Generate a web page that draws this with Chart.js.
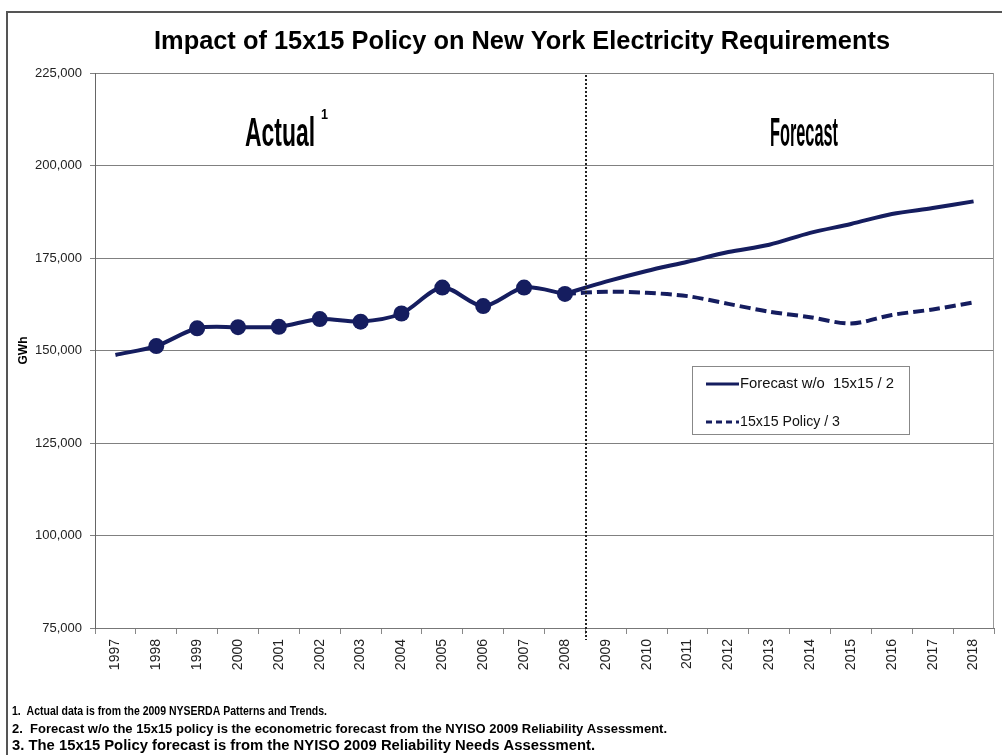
<!DOCTYPE html>
<html>
<head>
<meta charset="utf-8">
<script src="https://cdn.jsdelivr.net/npm/chart.js@4"></script>
<style>
   body { margin: 0; background: #fff; }
   canvas { display: block; }
</style>
</head>
<body>
<canvas id="nyChart" width="1002" height="755"></canvas>
<script>
// categories (years)
var years = ['1997', '1998', '1999', '2000', '2001', '2002', '2003', '2004', '2005', '2006', '2007',
             '2008', '2009', '2010', '2011', '2012', '2013', '2014', '2015', '2016', '2017', '2018'];

// actual energy requirements, GWh (1997 - 2008)
var actualValues = [148800, 151200, 156000, 156300, 156400, 158500, 157800, 160000, 167000, 162000, 167000,
                    165300, null, null, null, null, null, null, null, null, null, null];

// forecast without the 15x15 policy, GWh
var forecastValues = [null, null, null, null, null, null, null, null, null, null, null,
                      165300, 168600, 171500, 174000, 176600, 178600, 181800, 184200, 186900, 188500, 190300];

// forecast with the 15x15 policy, GWh
var policyValues = [null, null, null, null, null, null, null, null, null, null, null,
                    165300, 165900, 165600, 164700, 162600, 160500, 159000, 157300, 159600, 161100, 163000];

var yTicks = [75000, 100000, 125000, 150000, 175000, 200000, 225000];

var titleText = 'Impact of 15x15 Policy on New York Electricity Requirements';
var footnotes = [
   '1.  Actual data is from the 2009 NYSERDA Patterns and Trends.',
   '2.  Forecast w/o the 15x15 policy is the econometric forecast from the NYISO 2009 Reliability Assessment.',
   '3. The 15x15 Policy forecast is from the NYISO 2009 Reliability Needs Assessment.'
];

var navy = '#151d5f';
var fontFamily = '"Liberation Sans", Arial, sans-serif';

var Helpers = {

   /* draws a text stretched or squeezed horizontally to the given width,
      like the narrow fonts of the original slide
   */
   fittedText: function(ctx, text, x, y, font, width, align) {
      ctx.save();
      ctx.font = font;
      ctx.textAlign = 'left';
      var natural = ctx.measureText(text).width;
      var left = align === 'center' ? x - width / 2 : x;
      ctx.translate(left, y);
      ctx.scale(width / natural, 1);
      ctx.fillText(text, 0, 0);
      ctx.restore();
   }
};

var decorPlugin = {
   id: 'decor',

   beforeDraw: function(chart) {
      var ctx = chart.ctx;
      ctx.save();
      ctx.fillStyle = '#fff';
      ctx.fillRect(0, 0, chart.width, chart.height);

      // frame of the slide
      ctx.strokeStyle = '#555';
      ctx.lineWidth = 2;
      ctx.beginPath();
      ctx.moveTo(7, chart.height);
      ctx.lineTo(7, 12);
      ctx.lineTo(chart.width, 12);
      ctx.stroke();
      ctx.restore();
   },

   afterDatasetsDraw: function(chart) {
      var ctx = chart.ctx;
      var area = chart.chartArea;
      var xScale = chart.scales.x;
      ctx.save();

      // right edge of the plot
      ctx.strokeStyle = '#999';
      ctx.lineWidth = 1;
      ctx.beginPath();
      ctx.moveTo(area.right - 0.5, area.top);
      ctx.lineTo(area.right - 0.5, area.bottom);
      ctx.stroke();

      // dotted divider between actual and forecast
      var splitX = Math.round((xScale.getPixelForValue(11) + xScale.getPixelForValue(12)) / 2) + 1;
      ctx.strokeStyle = '#222';
      ctx.lineWidth = 2;
      ctx.setLineDash([2, 2]);
      ctx.beginPath();
      ctx.moveTo(splitX, area.top + 2);
      ctx.lineTo(splitX, area.bottom + 12);
      ctx.stroke();
      ctx.setLineDash([]);

      // title
      ctx.fillStyle = '#000';
      ctx.textBaseline = 'alphabetic';
      Helpers.fittedText(ctx, titleText, 522, 49, 'bold 26px ' + fontFamily, 736, 'center');

      // section labels
      Helpers.fittedText(ctx, 'Actual', 245, 146, 'bold 40px ' + fontFamily, 70);
      Helpers.fittedText(ctx, '1', 321, 119, 'bold 15px ' + fontFamily, 7);
      Helpers.fittedText(ctx, 'Forecast', 770, 146, 'bold 40px ' + fontFamily, 68);

      // legend box
      ctx.fillStyle = '#fff';
      ctx.fillRect(692, 366, 217, 68);
      ctx.strokeStyle = '#888';
      ctx.lineWidth = 1;
      ctx.strokeRect(692.5, 366.5, 217, 68);

      var legendRows = [chart.data.datasets[1], chart.data.datasets[2]];
      var legendY = [384, 422];
      var legendW = [154, 100];
      for (var i = 0; i < legendRows.length; i++) {
         var ds = legendRows[i];
         ctx.strokeStyle = ds.borderColor;
         ctx.lineWidth = 3;
         ctx.setLineDash(ds.borderDash ? [6, 4] : []);
         ctx.beginPath();
         ctx.moveTo(706, legendY[i]);
         ctx.lineTo(739, legendY[i]);
         ctx.stroke();
         ctx.setLineDash([]);
         ctx.fillStyle = '#111';
         ctx.textBaseline = 'middle';
         Helpers.fittedText(ctx, ds.label, 740, legendY[i], '14px ' + fontFamily, legendW[i]);
      }

      // footnotes
      ctx.fillStyle = '#000';
      ctx.textBaseline = 'alphabetic';
      var footY = [715, 733, 750];
      var footW = [315, 655, 583];
      var footSize = [13, 13, 14.5];
      for (var j = 0; j < footnotes.length; j++) {
         Helpers.fittedText(ctx, footnotes[j], 12, footY[j], 'bold ' + footSize[j] + 'px ' + fontFamily, footW[j]);
      }

      ctx.restore();
   }
};

var ctx = document.getElementById('nyChart').getContext('2d');

var nyChart = new Chart(ctx, {
   type: 'line',
   data: {
      labels: years,
      datasets: [{
         label: 'Actual',
         data: actualValues,
         borderColor: navy,
         backgroundColor: navy,
         borderWidth: 4,
         pointRadius: actualValues.map(function(v, i) { return i === 0 ? 0 : 8; }),
         pointBorderWidth: 0,
         tension: 0.3
      }, {
         label: 'Forecast w/o  15x15 / 2',
         data: forecastValues,
         borderColor: navy,
         backgroundColor: navy,
         borderWidth: 4,
         pointRadius: 0,
         tension: 0.3
      }, {
         label: '15x15 Policy / 3',
         data: policyValues,
         borderColor: navy,
         backgroundColor: navy,
         borderWidth: 4,
         borderDash: [11, 5],
         pointRadius: 0,
         tension: 0.3
      }]
   },
   options: {
      responsive: false,
      animation: false,
      layout: {
         padding: { top: 73, right: 7, left: 16, bottom: 0 }
      },
      plugins: {
         legend: { display: false },
         tooltip: { enabled: false },
         title: { display: false }
      },
      scales: {
         x: {
            offset: true,
            grid: {
               offset: true,
               drawOnChartArea: false,
               drawTicks: true,
               tickLength: 6,
               color: '#888'
            },
            border: { color: '#777' },
            ticks: {
               minRotation: 90,
               maxRotation: 90,
               autoSkip: false,
               padding: 5,
               color: '#222',
               font: { family: fontFamily, size: 14 }
            },
            afterFit: function(scale) { scale.height = 127; }
         },
         y: {
            min: yTicks[0],
            max: yTicks[yTicks.length - 1],
            afterBuildTicks: function(scale) {
               scale.ticks = yTicks.map(function(v) { return { value: v }; });
            },
            grid: { color: '#808080', tickLength: 5 },
            border: { color: '#666' },
            ticks: {
               padding: 8,
               color: '#222',
               font: { family: fontFamily, size: 13 },
               callback: function(v) { return v.toLocaleString('en-US'); }
            },
            title: {
               display: true,
               text: 'GWh',
               color: '#000',
               padding: 0,
               font: { family: fontFamily, size: 12, weight: 'bold' }
            },
            afterFit: function(scale) { scale.width = 79; }
         }
      }
   },
   plugins: [decorPlugin]
});
</script>
</body>
</html>
